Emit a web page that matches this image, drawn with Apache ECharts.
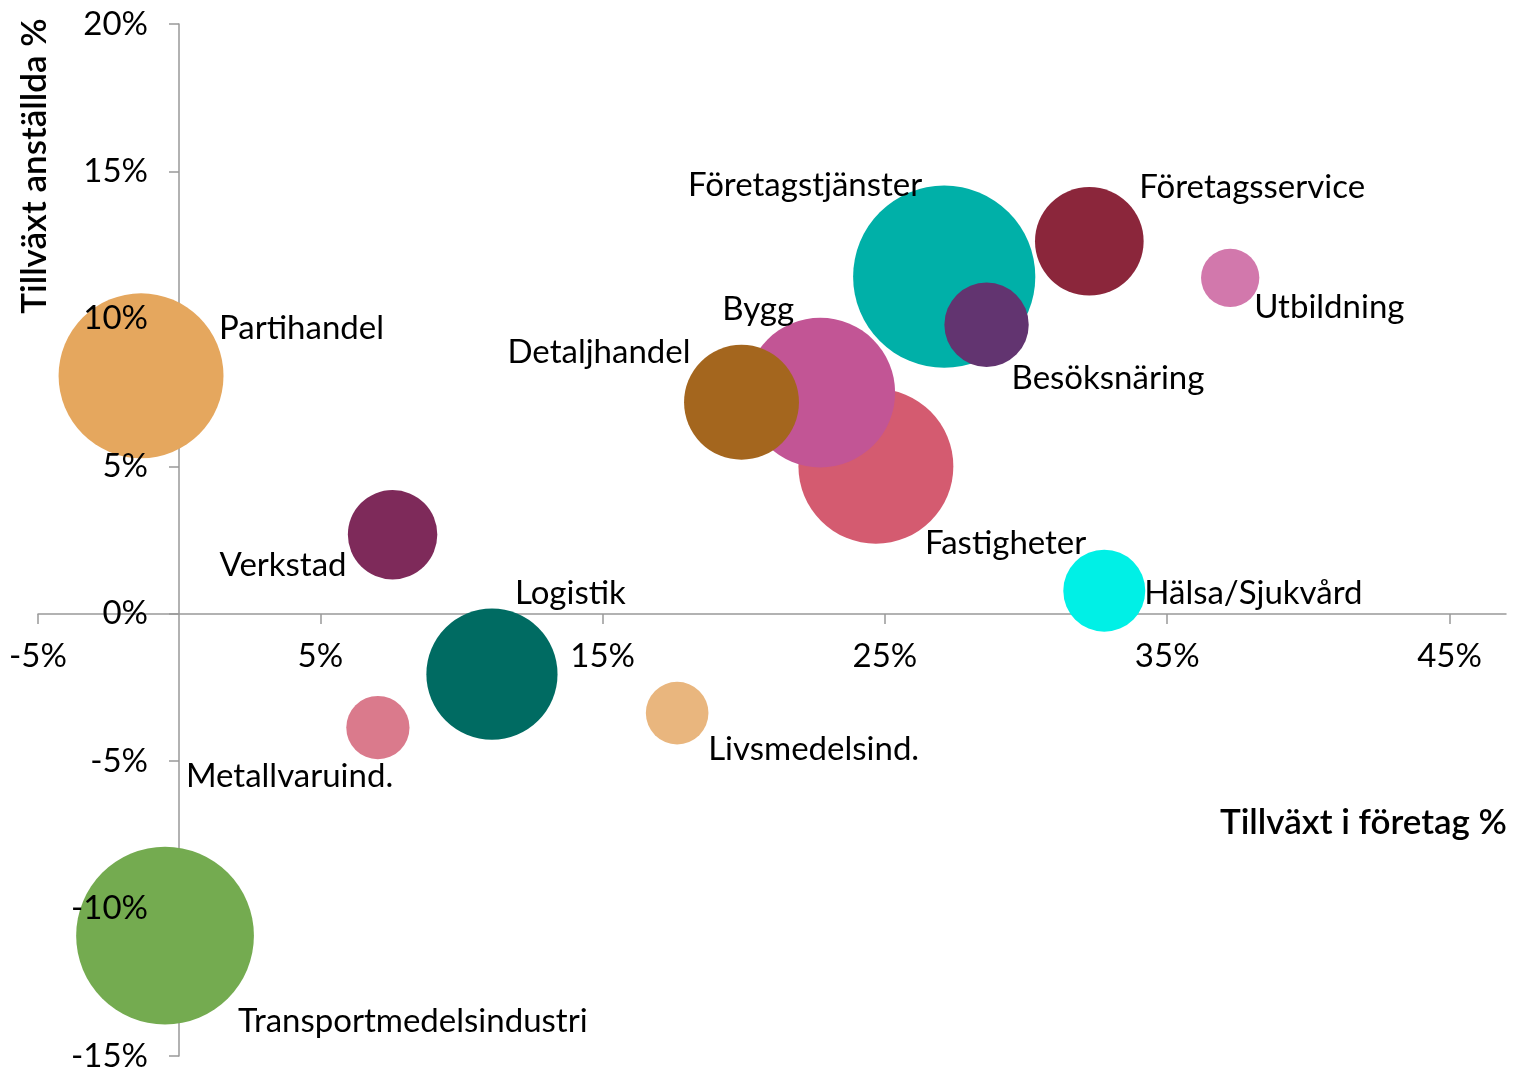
<!DOCTYPE html>
<html>
<head>
<meta charset="utf-8">
<title>Tillväxt per bransch</title>
<script src="https://cdn.jsdelivr.net/npm/echarts@6/dist/echarts.min.js"></script>
<style>
    html, body { margin: 0; padding: 0; background: #fff; }
    #main { width: 1514px; height: 1068px; }
</style>
</head>
<body>
<div id="main"></div>
<script>
// data
var sectors = ['Partihandel', 'Transportmedelsindustri', 'Verkstad', 'Metallvaruind.', 'Logistik',
    'Livsmedelsind.', 'Fastigheter', 'Bygg', 'Detaljhandel', 'Företagstjänster', 'Besöksnäring',
    'Företagsservice', 'Utbildning', 'Hälsa/Sjukvård'];
var growthCompanies = [-1.35, -0.5, 7.56, 7.04, 11.08, 17.64, 24.68, 22.71, 19.92, 27.1, 28.6, 32.24, 37.23, 32.77];
var growthEmployees = [8.07, -10.92, 2.68, -3.86, -2.05, -3.37, 5.0, 7.5, 7.17, 11.43, 9.8, 12.63, 11.39, 0.78];
var bubbleSize = [68, 79, 20, 10, 43, 9.8, 60, 56, 33, 83, 17.8, 29.5, 8.5, 16.8];
var xTicks = [-5, 5, 15, 25, 35, 45];

// färger och etikettplacering
var colors = ['#E5A75E', '#74AB50', '#7E2A5A', '#DA7A8C', '#006B62', '#E9B67E', '#D45B70',
    '#C25595', '#A4661E', '#00B0A8', '#623470', '#8B263B', '#D278AC', '#00F0E6'];
var labelPlacement = [
    ['left', 78, -47], ['left', 73, 86], ['right', -46, 31], ['left', -192, 49], ['left', 23, -81],
    ['left', 31, 36], ['left', 49, 77], ['left', -98, -83], ['right', -51, -50], ['right', -22, -91],
    ['left', 25, 54], ['left', 50, -54], ['left', 24, 29], ['left', 40, 3]
];

var fontName = 'Lato';
var fontSize = 33;
var titleSize = 35;

// axlarna korsar i 0 (px från gridkanten)
var yAxisShift = -141;
var xAxisShift = -442;

function pct(v) {
    return v + '%';
}

var chart = echarts.init(document.getElementById('main'));

var points = [];
for (var i = 0; i < sectors.length; i++) {
    points.push({
        name: sectors[i],
        value: [growthCompanies[i], growthEmployees[i], bubbleSize[i]],
        itemStyle: { color: colors[i], opacity: 1 },
        label: {
            align: labelPlacement[i][0],
            offset: [labelPlacement[i][1], labelPlacement[i][2]]
        }
    });
}

var axisLineStyle = { color: '#999999', width: 1.5 };

var option = {
    backgroundColor: '#ffffff',
    animation: false,
    textStyle: { fontFamily: fontName },
    grid: {
        left: 38,
        right: 8,
        top: 24,
        height: 1032,
        outerBoundsMode: 'none'
    },
    xAxis: {
        type: 'value',
        position: 'bottom',
        offset: xAxisShift,
        min: -5,
        max: 47,
        interval: 10,
        axisLine: { show: true, onZero: false, lineStyle: axisLineStyle },
        axisTick: { show: true, inside: false, length: 10, customValues: xTicks, lineStyle: axisLineStyle },
        axisLabel: {
            show: true,
            showMaxLabel: false,
            formatter: pct,
            margin: 26,
            color: '#000',
            fontFamily: fontName,
            fontSize: fontSize
        },
        splitLine: { show: false }
    },
    yAxis: [
        {
            // linje och streck under bubblorna
            type: 'value',
            position: 'left',
            offset: yAxisShift,
            min: -15,
            max: 20,
            interval: 5,
            axisLine: { show: true, onZero: false, lineStyle: axisLineStyle },
            axisTick: { show: true, length: 10, lineStyle: axisLineStyle },
            axisLabel: { show: false },
            splitLine: { show: false }
        },
        {
            // etiketter ovanpå bubblorna
            type: 'value',
            position: 'left',
            offset: yAxisShift,
            min: -15,
            max: 20,
            interval: 5,
            z: 10,
            axisLine: { show: false, onZero: false },
            axisTick: { show: false },
            axisLabel: {
                show: true,
                formatter: pct,
                margin: 31,
                color: '#000',
                fontFamily: fontName,
                fontSize: fontSize
            },
            splitLine: { show: false }
        }
    ],
    graphic: [
        {
            type: 'text',
            x: 35,
            y: 166,
            rotation: Math.PI / 2,
            style: {
                text: 'Tillväxt anställda %',
                fill: '#000',
                font: '600 ' + titleSize + 'px ' + fontName,
                align: 'center',
                verticalAlign: 'middle'
            }
        },
        {
            type: 'text',
            x: 1507,
            y: 823,
            style: {
                text: 'Tillväxt i företag %',
                fill: '#000',
                font: '600 ' + titleSize + 'px ' + fontName,
                align: 'right',
                verticalAlign: 'middle'
            }
        }
    ],
    series: [
        {
            type: 'scatter',
            xAxisIndex: 0,
            yAxisIndex: 0,
            symbol: 'circle',
            symbolSize: function (val) {
                return 20 * Math.sqrt(val[2]);
            },
            label: {
                show: true,
                position: 'inside',
                verticalAlign: 'middle',
                formatter: '{b}',
                color: '#000',
                fontFamily: fontName,
                fontSize: fontSize
            },
            emphasis: { disabled: true },
            data: points
        }
    ]
};

chart.setOption(option);
</script>
</body>
</html>
